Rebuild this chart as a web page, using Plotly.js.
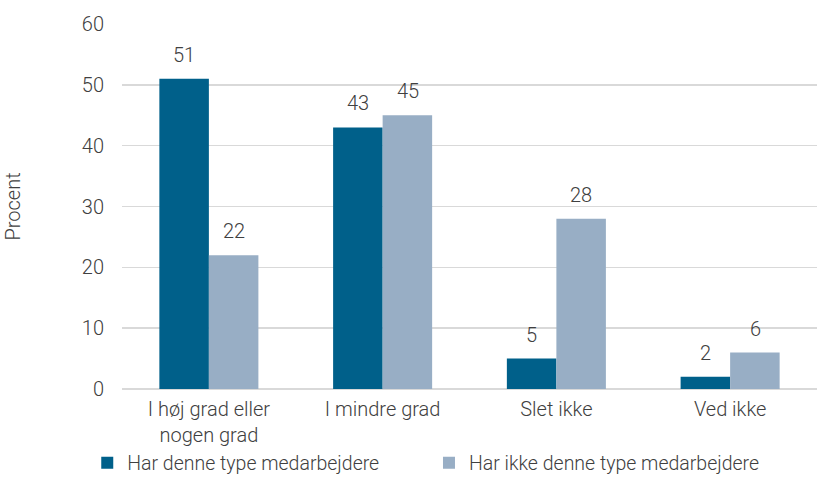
<!DOCTYPE html>
<html>
<head>
<meta charset="utf-8">
<script src="https://cdn.plot.ly/plotly-3.0.1.min.js"></script>
<style>
  html, body { margin: 0; padding: 0; background: #fff; }
  #topbar { position: absolute; left: 0; top: 0; width: 817px; height: 3px; background: #005f87; }
  #chart { width: 817px; height: 479px; }
</style>
</head>
<body>
<div id="topbar"></div>
<div id="chart"></div>
<script>
// Categories and series values (percent)
const categories = ["I høj grad eller<br>nogen grad", "I mindre grad", "Slet ikke", "Ved ikke"];
const seriesNames = ["Har denne type medarbejdere", "Har ikke denne type medarbejdere"];
const harValues = [51, 43, 5, 2];
const harIkkeValues = [22, 45, 28, 6];
const yTicks = [0, 10, 20, 30, 40, 50, 60];

const textColor = "#404040";
const family = "Roboto, 'Noto Sans', sans-serif";
const font = { family: family, size: 20, color: textColor, weight: 300 };

const traces = [
  {
    type: "bar", name: seriesNames[0], x: categories, y: harValues,
    marker: { color: "#00608a" }, legend: "legend"
  },
  {
    type: "bar", name: seriesNames[1], x: categories, y: harIkkeValues,
    marker: { color: "#98aec5" }, legend: "legend2"
  }
];

// Value labels above each bar, shifted onto its half of the group
const barHalf = 25;
const annotations = [];
[harValues, harIkkeValues].forEach((vals, s) => {
  vals.forEach((v, i) => {
    annotations.push({
      x: categories[i], y: v, xref: "x", yref: "y",
      text: String(v), showarrow: false,
      xanchor: "center", yanchor: "bottom",
      xshift: s === 0 ? -barHalf : barHalf, yshift: 10,
      font: font
    });
  });
});

const legendFont = { family: family, size: 19.5, color: textColor, weight: 300 };

const layout = {
  width: 817, height: 479,
  margin: { l: 122, r: 0, t: 24, b: 90, autoexpand: false },
  paper_bgcolor: "#fff", plot_bgcolor: "#fff",
  font: font,
  barmode: "group",
  bargap: 0.43, bargroupgap: 0,
  xaxis: {
    tickfont: font, showgrid: false, showline: false, ticks: "",
    ticklabelstandoff: 6
  },
  yaxis: {
    range: [0, 60], tickvals: yTicks, ticktext: yTicks.map(String),
    tickfont: font, showgrid: true, gridcolor: "#d9d9d9", gridwidth: 1.5,
    zeroline: true, zerolinecolor: "#d9d9d9", zerolinewidth: 1.5,
    ticks: "", ticklabelstandoff: 17,
    title: { text: "Procent", font: { family: family, size: 20, color: textColor, weight: 300 }, standoff: 55 }
  },
  legend: {
    orientation: "h", x: -0.050, xanchor: "left", y: -0.2027, yanchor: "middle",
    font: legendFont, itemwidth: 30, tracegroupgap: 0, bgcolor: "rgba(0,0,0,0)"
  },
  legend2: {
    orientation: "h", x: 0.4417, xanchor: "left", y: -0.2027, yanchor: "middle",
    font: legendFont, itemwidth: 30, tracegroupgap: 0, bgcolor: "rgba(0,0,0,0)"
  },
  annotations: annotations,
  showlegend: true
};

Plotly.newPlot("chart", traces, layout, { displayModeBar: false, staticPlot: true });
</script>
</body>
</html>
